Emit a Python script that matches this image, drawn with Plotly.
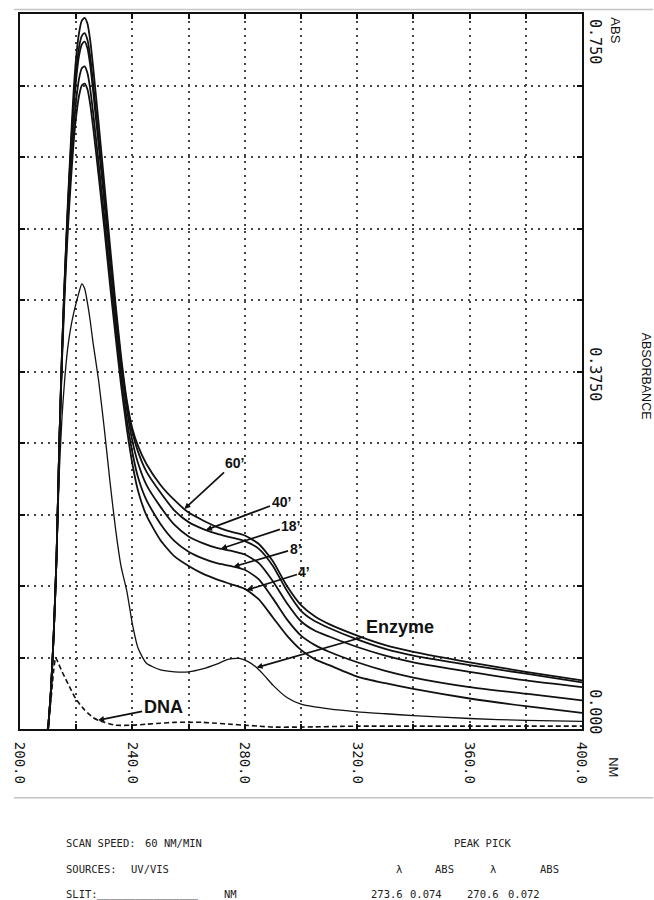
import numpy as np
import plotly.graph_objects as go

# ---------------- data ----------------
WAVELENGTH_NM = [210, 211, 212, 213, 214, 215, 216, 217, 218, 219, 220, 221, 222, 223,
                 224, 225, 226, 228, 230, 232, 234, 236, 238, 240, 242, 245, 250, 255,
                 260, 265, 270, 275, 280, 285, 290, 295, 300, 305, 310, 320, 330, 340,
                 360, 380, 400]

ABS_60 = [0.0, 0.04, 0.10, 0.18, 0.30, 0.40, 0.48, 0.55, 0.61, 0.665, 0.705, 0.73, 0.743, 0.746,
          0.740, 0.722, 0.695, 0.635, 0.572, 0.508, 0.446, 0.39, 0.345, 0.315, 0.297, 0.278, 0.256, 0.240,
          0.227, 0.219, 0.212, 0.207, 0.203, 0.194, 0.176, 0.150, 0.130, 0.118, 0.110, 0.098, 0.088, 0.081,
          0.070, 0.060, 0.051]
ABS_40 = [0.0, 0.04, 0.10, 0.18, 0.30, 0.40, 0.478, 0.545, 0.603, 0.653, 0.69, 0.715, 0.727, 0.730,
          0.723, 0.705, 0.678, 0.62, 0.56, 0.498, 0.44, 0.385, 0.342, 0.311, 0.291, 0.270, 0.248, 0.229,
          0.217, 0.210, 0.205, 0.201, 0.197, 0.189, 0.171, 0.145, 0.124, 0.113, 0.106, 0.094, 0.084, 0.077,
          0.067, 0.058, 0.049]
ABS_18 = [0.0, 0.04, 0.10, 0.18, 0.30, 0.40, 0.476, 0.542, 0.598, 0.646, 0.682, 0.706, 0.718, 0.721,
          0.714, 0.696, 0.67, 0.612, 0.553, 0.492, 0.435, 0.38, 0.336, 0.302, 0.279, 0.256, 0.233, 0.214,
          0.202, 0.195, 0.190, 0.187, 0.183, 0.174, 0.155, 0.132, 0.113, 0.103, 0.097, 0.086, 0.077, 0.070,
          0.060, 0.051, 0.044]
ABS_8 = [0.0, 0.04, 0.10, 0.18, 0.30, 0.395, 0.47, 0.532, 0.583, 0.627, 0.66, 0.682, 0.693, 0.695,
         0.688, 0.671, 0.647, 0.593, 0.537, 0.478, 0.423, 0.37, 0.325, 0.29, 0.264, 0.24, 0.215, 0.197,
         0.186, 0.179, 0.174, 0.171, 0.167, 0.157, 0.137, 0.115, 0.098, 0.088, 0.081, 0.070, 0.061, 0.054,
         0.044, 0.037, 0.030]
ABS_4 = [0.0, 0.04, 0.10, 0.18, 0.30, 0.39, 0.463, 0.522, 0.570, 0.612, 0.643, 0.664, 0.675, 0.677,
         0.671, 0.655, 0.632, 0.58, 0.525, 0.467, 0.412, 0.36, 0.315, 0.278, 0.25, 0.224, 0.198, 0.181,
         0.171, 0.163, 0.157, 0.152, 0.147, 0.136, 0.117, 0.098, 0.083, 0.073, 0.067, 0.055, 0.048, 0.042,
         0.032, 0.024, 0.017]

TIME_LABELS = ["60’", "40’", "18’", "8’", "4’"]
TIME_SERIES = [ABS_60, ABS_40, ABS_18, ABS_8, ABS_4]
TIME_TIP_NM = [258.5, 266.2, 271.5, 276.0, 280.6]

ENZYME_NM = [210, 211, 212, 213, 214, 215, 216, 217, 218, 219, 220, 221, 222, 223, 224, 225, 226,
             228, 230, 232, 234, 236, 238, 240, 242, 245, 250, 255, 260, 265, 270, 274, 278, 281,
             284, 287, 290, 295, 300, 310, 320, 330, 340, 360, 380, 400]
ENZYME_ABS = [0.0, 0.04, 0.10, 0.18, 0.27, 0.33, 0.37, 0.40, 0.42, 0.435, 0.447, 0.458, 0.467, 0.462,
              0.447, 0.428, 0.405, 0.365, 0.315, 0.26, 0.21, 0.17, 0.145, 0.11, 0.085, 0.069, 0.062,
              0.060, 0.060, 0.063, 0.068, 0.073, 0.074, 0.071, 0.065, 0.056, 0.046, 0.033, 0.026,
              0.021, 0.018, 0.016, 0.014, 0.011, 0.009, 0.008]
ENZYME_TIP_NM = 284.2

DNA_NM = [209.8, 211, 212, 212.7, 213.5, 215, 216, 218, 220, 223, 226, 228, 230, 234, 240, 245,
          250, 255, 260, 265, 270, 275, 280, 285, 290, 300, 320, 340, 360, 380, 400]
DNA_ABS = [0.0, 0.03, 0.062, 0.075, 0.07, 0.06, 0.054, 0.042, 0.031, 0.02, 0.012, 0.009, 0.007,
           0.004, 0.004, 0.005, 0.006, 0.007, 0.007, 0.007, 0.006, 0.005, 0.004, 0.003, 0.002,
           0.002, 0.003, 0.003, 0.003, 0.003, 0.003]
DNA_TIP_NM = 227.8

X_TICKS = [200, 220, 240, 260, 280, 300, 320, 340, 360, 380, 400]
X_TICK_TEXT = ["200.0", "", "240.0", "", "280.0", "", "320.0", "", "360.0", "", "400.0"]
Y_TICKS = [0.0, 0.075, 0.15, 0.225, 0.3, 0.375, 0.45, 0.525, 0.6, 0.675, 0.75]
Y_LABELS = ["0.750", "0.3750", "0.000"]

TABLE_ROW1 = ["SCAN SPEED:", "60 NM/MIN", "PEAK PICK"]
TABLE_ROW2 = ["SOURCES:", "UV/VIS", "λ", "ABS", "λ", "ABS"]
TABLE_ROW3 = ["SLIT:", "________________", "NM", "273.6", "0.074", "270.6", "0.072"]

# ---------------- layout geometry (pixels) ----------------
W, H = 654, 900
L, R, T, B = 14, 582, 12, 729


def px(x, y):
    return (x - L) / (R - L), (B - y) / (B - T)


fig = go.Figure()

for vals in TIME_SERIES:
    fig.add_trace(go.Scatter(x=WAVELENGTH_NM, y=vals, mode="lines",
                             line=dict(color="#111", width=1.8, shape="spline", smoothing=0.6),
                             hoverinfo="skip"))
fig.add_trace(go.Scatter(x=ENZYME_NM, y=ENZYME_ABS, mode="lines",
                         line=dict(color="#111", width=1.3, shape="spline", smoothing=0.6),
                         hoverinfo="skip"))
fig.add_trace(go.Scatter(x=DNA_NM, y=DNA_ABS, mode="lines",
                         line=dict(color="#111", width=1.6, dash="5px,3px", shape="spline", smoothing=0.6),
                         hoverinfo="skip"))

annotations = []
time_offsets = [(50, -46), (75, -28), (70, -23), (62, -18), (58, -18)]
for lab, vals, tip, (ax, ay) in zip(TIME_LABELS, TIME_SERIES, TIME_TIP_NM, time_offsets):
    annotations.append(dict(x=tip, y=float(np.interp(tip, WAVELENGTH_NM, vals)), xref="x", yref="y",
                            text="<b>%s</b>" % lab, showarrow=True, ax=ax, ay=ay,
                            arrowhead=2, arrowsize=0.7, arrowwidth=1.7, arrowcolor="#111",
                            font=dict(family="Liberation Sans, Arial", size=14, color="#111")))
annotations.append(dict(x=ENZYME_TIP_NM, y=float(np.interp(ENZYME_TIP_NM, ENZYME_NM, ENZYME_ABS)),
                        xref="x", yref="y", text="<b>Enzyme</b>", showarrow=True, ax=143, ay=-41,
                        arrowhead=2, arrowsize=0.7, arrowwidth=1.7, arrowcolor="#111",
                        font=dict(family="Liberation Sans, Arial", size=18, color="#111")))
annotations.append(dict(x=DNA_TIP_NM, y=float(np.interp(DNA_TIP_NM, DNA_NM, DNA_ABS)),
                        xref="x", yref="y", text="<b>DNA</b>", showarrow=True, ax=65, ay=-13,
                        arrowhead=2, arrowsize=0.7, arrowwidth=1.7, arrowcolor="#111",
                        font=dict(family="Liberation Sans, Arial", size=18, color="#111")))

mono = "DejaVu Sans Mono, Liberation Mono, monospace"


def side_text(text, x, y, size=14, family=mono):
    xp, yp = px(x, y)
    annotations.append(dict(x=xp, y=yp, xref="paper", yref="paper", text=text, showarrow=False,
                            textangle=90, xanchor="center", yanchor="middle",
                            font=dict(family=family, size=size, color="#111")))


side_text(Y_LABELS[0], 595, 40, size=15)
side_text(Y_LABELS[1], 595, 373, size=15)
side_text(Y_LABELS[2], 595, 712, size=15)
side_text("ABS", 615, 28, size=13, family="Liberation Sans, Arial")
side_text("ABSORBANCE", 647, 375, size=12.5, family="Liberation Sans, Arial")
side_text("NM", 613, 767, size=13, family="Liberation Sans, Arial")

small = "DejaVu Sans Mono, Liberation Mono, monospace"


def table_text(text, x, y, anchor="left"):
    xp, yp = px(x, y)
    annotations.append(dict(x=xp, y=yp, xref="paper", yref="paper", text=text, showarrow=False,
                            xanchor=anchor, yanchor="middle",
                            font=dict(family=small, size=10.5, color="#222")))


row1_pos = [(58, "left"), (138, "left"), (482, "center")]
row2_pos = [(58, "left"), (124, "left"), (397, "center"), (443, "center"), (492, "center"), (549, "center")]
row3_pos = [(58, "left"), (90, "left"), (218, "left"), (385, "center"), (424, "center"), (482, "center"), (523, "center")]
for texts, poss, yy in [(TABLE_ROW1, row1_pos, 843), (TABLE_ROW2, row2_pos, 869), (TABLE_ROW3, row3_pos, 894)]:
    for t, (xx, anc) in zip(texts, poss):
        table_text(t, xx, yy, anc)

shapes = []
for yy in (7.5, 798):
    _, yp = px(0, yy)
    shapes.append(dict(type="line", xref="paper", yref="paper", x0=px(8, 0)[0], x1=px(654, 0)[0],
                       y0=yp, y1=yp, line=dict(color="#c4c4c4", width=1.5)))

axis_common = dict(ticks="inside", ticklen=5, tickwidth=1.5, tickcolor="#111",
                   showline=True, linewidth=2, linecolor="#111", mirror="ticks",
                   showgrid=True, gridcolor="#444", gridwidth=1.5, griddash="2px,5px",
                   zeroline=False, fixedrange=True)

fig.update_layout(
    width=W, height=H, autosize=False,
    margin=dict(l=L, r=W - R, t=T, b=H - B, pad=0),
    paper_bgcolor="white", plot_bgcolor="white", showlegend=False,
    xaxis=dict(range=[200, 400], tickvals=X_TICKS, ticktext=X_TICK_TEXT, tickangle=90,
               ticklabelstandoff=8, tickfont=dict(family=mono, size=14, color="#111"), **axis_common),
    yaxis=dict(range=[0, 0.75], tickvals=Y_TICKS, side="right", showticklabels=False, **axis_common),
    annotations=annotations, shapes=shapes,
)

fig.write_html("out.html")
